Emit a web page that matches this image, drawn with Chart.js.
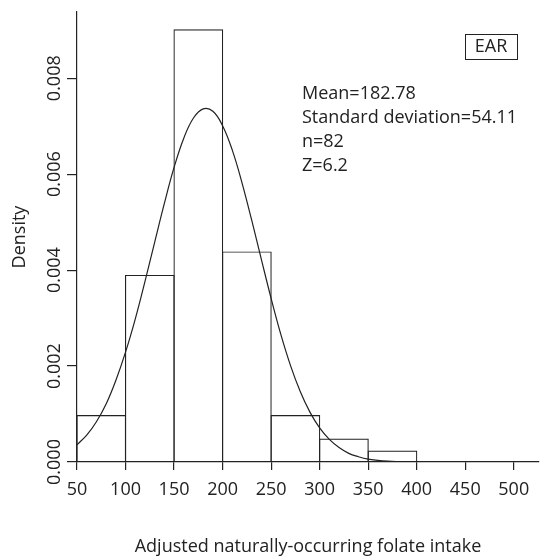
<!DOCTYPE html>
<html lang="en">
  <head>
    <meta charset="UTF-8" />
    <title>Folate histogram</title>
    <script src="https://cdn.jsdelivr.net/npm/chart.js"></script>
    <style>
      html, body { margin: 0; padding: 0; background: #fff; }
      #box { width: 543px; height: 558px; }
    </style>
  </head>
  <body>
    <div id="box"><canvas id="myCanvas" width="543" height="558"></canvas></div>
    <script>
      // histogram bins (centre of each 50-wide bin) and density
      const binCentres = [75, 125, 175, 225, 275, 325, 375];
      const densities = [0.00098, 0.0039, 0.00902, 0.00439, 0.00098, 0.00049, 0.00024];

      // fitted curve
      const curveX = [50, 60, 70, 80, 90, 100, 110, 120, 130, 140, 150, 160, 170, 180, 190, 200,
        210, 220, 230, 240, 250, 260, 270, 280, 290, 300, 310, 320, 330, 340, 350, 360, 370, 380, 390, 400];
      const curveY = [0.00036, 0.00056, 0.00084, 0.00121, 0.0017, 0.00229, 0.00298, 0.00376, 0.00458,
        0.00539, 0.00614, 0.00675, 0.00717, 0.00736, 0.00731, 0.00701, 0.0065, 0.00582, 0.00504,
        0.00422, 0.00341, 0.00266, 0.00201, 0.00147, 0.00104, 0.00071, 0.00047, 0.0003, 0.00018,
        0.00011, 0.00006, 0.000035, 0.000019, 0.00001, 0.000005, 0.000002];

      const xTicks = [50, 100, 150, 200, 250, 300, 350, 400, 450, 500];
      const yTicks = [0, 0.002, 0.004, 0.006, 0.008];
      const statLines = ["Mean=182.78", "Standard deviation=54.11", "n=82", "Z=6.2"];
      const tagText = "EAR";

      const ink = "#222";
      const fontFam = "'Open Sans', sans-serif";

      const extras = {
        id: "extras",
        afterDraw(chart) {
          const ctx = chart.ctx;
          const y = chart.scales.y;
          ctx.save();
          ctx.fillStyle = ink;
          ctx.font = "18px " + fontFam;
          ctx.textAlign = "center";
          ctx.textBaseline = "middle";
          // rotated y tick labels
          yTicks.forEach(function (v) {
            ctx.save();
            ctx.translate(55, y.getPixelForValue(v));
            ctx.rotate(-Math.PI / 2);
            ctx.fillText(v.toFixed(3), 0, 0);
            ctx.restore();
          });
          // EAR box
          ctx.strokeStyle = ink;
          ctx.lineWidth = 1;
          ctx.strokeRect(465.5, 34.5, 52, 25);
          ctx.fillText(tagText, 491, 47);
          // stats
          ctx.textAlign = "left";
          ctx.textBaseline = "alphabetic";
          statLines.forEach(function (t, i) {
            ctx.fillText(t, 302, 99 + i * 24);
          });
          ctx.restore();
        },
      };

      const config = {
        data: {
          datasets: [
            {
              type: "line",
              data: curveX.map(function (x, i) { return { x: x, y: curveY[i] }; }),
              borderColor: ink,
              borderWidth: 1.2,
              pointRadius: 0,
              tension: 0.4,
              fill: false,
            },
            {
              type: "bar",
              data: binCentres.map(function (x, i) { return { x: x, y: densities[i] }; }),
              backgroundColor: "rgba(255,255,255,0)",
              borderColor: ink,
              borderWidth: 1.2,
              // slight overlap so neighbouring edges share one line
              barPercentage: 1.025,
              categoryPercentage: 1,
            },
          ],
        },
        options: {
          responsive: false,
          animation: false,
          layout: { padding: { top: 12, right: 4, left: 0, bottom: 0 } },
          plugins: { legend: { display: false }, tooltip: { enabled: false } },
          scales: {
            x: {
              type: "linear",
              min: 50,
              max: 526,
              offset: false,
              afterBuildTicks: function (s) { s.ticks = xTicks.map(function (v) { return { value: v }; }); },
              afterFit: function (s) { s.height = 96; },
              grid: { drawOnChartArea: false, offset: false, tickLength: 8, color: ink, lineWidth: 1.2 },
              border: { color: ink, width: 1.2 },
              ticks: { color: ink, font: { family: fontFam, size: 18 }, padding: 9, maxRotation: 0 },
              title: {
                display: true,
                text: "Adjusted naturally-occurring folate intake",
                color: ink,
                font: { family: fontFam, size: 18 },
                padding: { top: 4, bottom: 0 },
              },
            },
            y: {
              type: "linear",
              min: 0,
              max: 0.00938,
              afterBuildTicks: function (s) { s.ticks = yTicks.map(function (v) { return { value: v }; }); },
              afterFit: function (s) { s.width = 77; },
              grid: { drawOnChartArea: false, tickLength: 10, color: ink, lineWidth: 1.2 },
              border: { color: ink, width: 1.2 },
              ticks: { display: false },
              title: {
                display: true,
                text: "Density",
                color: ink,
                font: { family: fontFam, size: 18 },
                padding: { top: 9, bottom: 0 },
              },
            },
          },
        },
        plugins: [extras],
      };

      new Chart(document.getElementById("myCanvas"), config);
    </script>
  </body>
</html>
